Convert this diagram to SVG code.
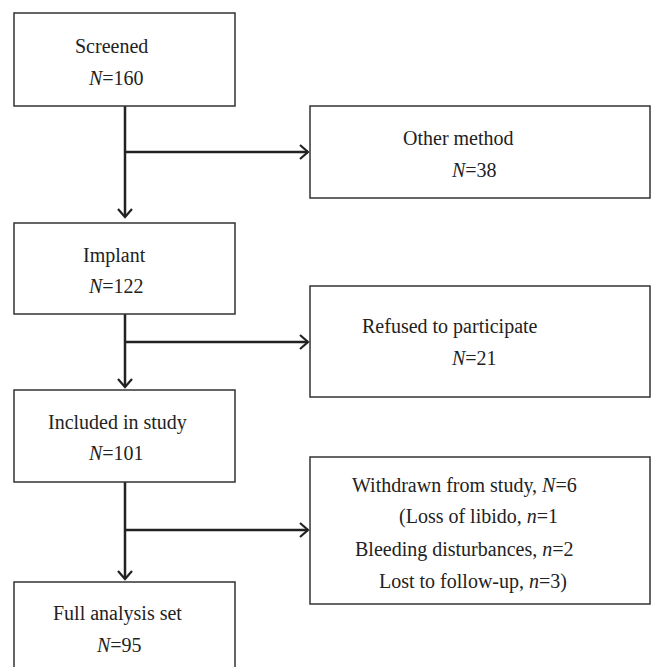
<svg xmlns="http://www.w3.org/2000/svg" width="651" height="667" viewBox="0 0 651 667">
<defs>
<style>
.box{fill:#fff;stroke:#333;stroke-width:1.5}
.t{font-family:"Liberation Serif","Times New Roman",serif;font-size:20px;fill:#222}
.i{font-style:italic}
.c{fill:none;stroke:#222;stroke-width:2.5}
</style>
<marker id="ah" markerUnits="userSpaceOnUse" markerWidth="20" markerHeight="20" refX="10" refY="10" orient="auto">
<path d="M2,3 L10,10 L2,17" fill="none" stroke="#222" stroke-width="2.2"/>
</marker>
</defs>
<rect width="651" height="667" fill="#fff"/>
<g id="connectors">
<path class="c" d="M125,106 V217" marker-end="url(#ah)"/>
<path class="c" d="M125,152 H308" marker-end="url(#ah)"/>
<path class="c" d="M125,314 V387" marker-end="url(#ah)"/>
<path class="c" d="M125,342 H308" marker-end="url(#ah)"/>
<path class="c" d="M125,482 V579" marker-end="url(#ah)"/>
<path class="c" d="M125,530 H308" marker-end="url(#ah)"/>
</g>
<g id="screened">
<rect class="box" x="14" y="13" width="221" height="93"/>
<text class="t" x="75" y="53">Screened</text>
<text class="t" x="89" y="85"><tspan class="i">N</tspan>=160</text>
</g>
<g id="other">
<rect class="box" x="310" y="106" width="340" height="92"/>
<text class="t" x="403" y="145">Other method</text>
<text class="t" x="452" y="177"><tspan class="i">N</tspan>=38</text>
</g>
<g id="implant">
<rect class="box" x="14" y="223" width="221" height="91"/>
<text class="t" x="83" y="262">Implant</text>
<text class="t" x="89" y="293"><tspan class="i">N</tspan>=122</text>
</g>
<g id="refused">
<rect class="box" x="310" y="286" width="340" height="111"/>
<text class="t" x="362" y="333">Refused to participate</text>
<text class="t" x="452" y="365"><tspan class="i">N</tspan>=21</text>
</g>
<g id="included">
<rect class="box" x="14" y="390" width="221" height="92"/>
<text class="t" x="48" y="429">Included in study</text>
<text class="t" x="89" y="460"><tspan class="i">N</tspan>=101</text>
</g>
<g id="withdrawn">
<rect class="box" x="310" y="457" width="340" height="147"/>
<text class="t" x="352" y="492">Withdrawn from study, <tspan class="i">N</tspan>=6</text>
<text class="t" x="399" y="523">(Loss of libido, <tspan class="i">n</tspan>=1</text>
<text class="t" x="355" y="556">Bleeding disturbances, <tspan class="i">n</tspan>=2</text>
<text class="t" x="379" y="588">Lost to follow-up, <tspan class="i">n</tspan>=3)</text>
</g>
<g id="full">
<rect class="box" x="14" y="582" width="221" height="90"/>
<text class="t" x="53" y="620">Full analysis set</text>
<text class="t" x="97" y="652"><tspan class="i">N</tspan>=95</text>
</g>
</svg>
